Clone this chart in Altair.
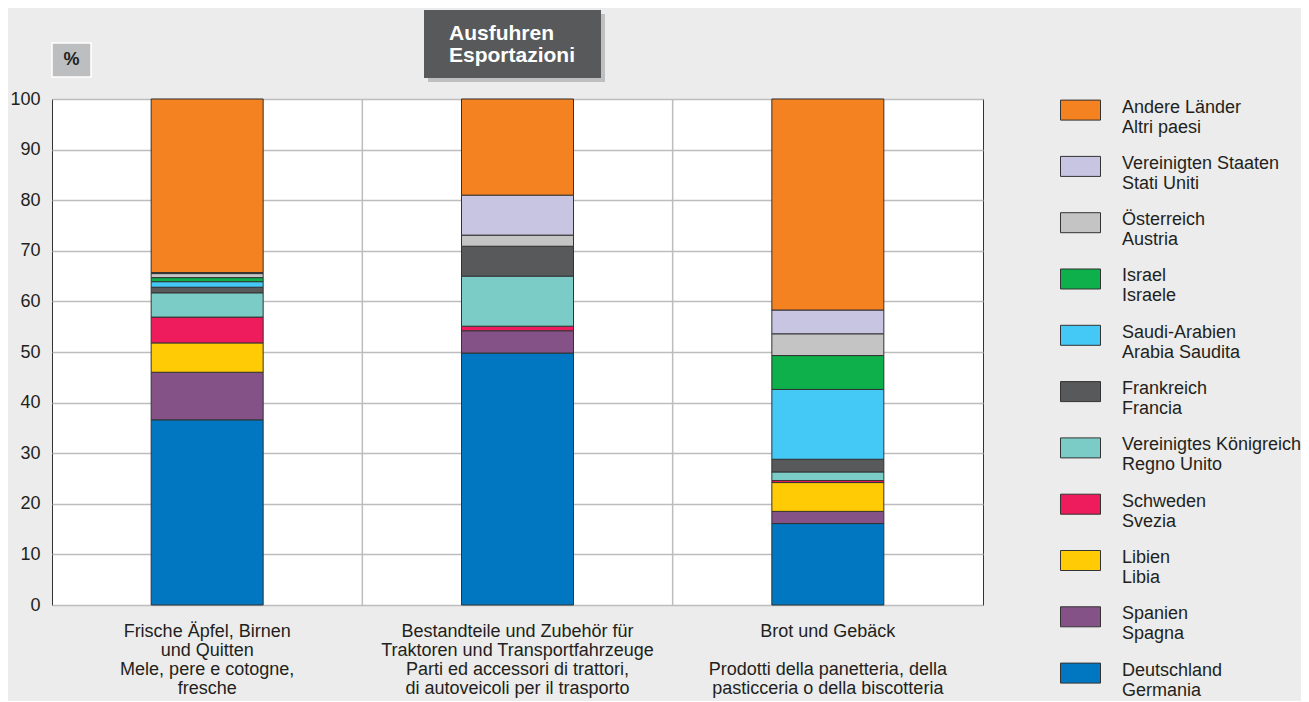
import altair as alt
import pandas as pd

products = [
    "Frische Äpfel, Birnen|und Quitten|Mele, pere e cotogne,|fresche",
    "Bestandteile und Zubehör für|Traktoren und Transportfahrzeuge|Parti ed accessori di trattori,|di autoveicoli per il trasporto",
    "Brot und Gebäck|\u200b|Prodotti della panetteria, della|pasticceria o della biscotteria",
]
countries = [
    "Deutschland|Germania",
    "Spanien|Spagna",
    "Libien|Libia",
    "Schweden|Svezia",
    "Vereinigtes Königreich|Regno Unito",
    "Frankreich|Francia",
    "Saudi-Arabien|Arabia Saudita",
    "Israel|Israele",
    "Österreich|Austria",
    "Vereinigten Staaten|Stati Uniti",
    "Andere Länder|Altri paesi",
]
colors = [
    "#0077C0", "#855287", "#FFCB05", "#EE1C5C", "#7BCCC6", "#58595B",
    "#44C8F5", "#0DB04B", "#C4C4C4", "#C7C5E2", "#F58220",
]
apples = [36.6, 9.4, 5.8, 5.1, 4.8, 1.1, 1.1, 0.8, 0.8, 0.2, 34.3]
parts = [49.8, 4.4, 0.0, 0.9, 9.9, 5.9, 0.0, 0.0, 2.2, 7.9, 19.0]
bread = [16.1, 2.4, 5.7, 0.4, 1.7, 2.5, 13.8, 6.7, 4.3, 4.7, 41.7]

rows = []
for prod, vals in zip(products, [apples, parts, bread]):
    for i, (c, v) in enumerate(zip(countries, vals)):
        if v > 0:
            rows.append({"product": prod, "country": c, "value": v, "rank": i})
df = pd.DataFrame(rows)

TXT = "#231F20"
W, H = 931, 506

xscale = alt.Scale(domain=products, paddingInner=0, paddingOuter=0)
xaxis = alt.Axis(title=None, labelExpr="split(datum.label, '|')", labelAngle=0,
                 labelFontSize=18, labelColor=TXT, labelPadding=17, labelLineHeight=19,
                 labelLimit=0, labelOverlap=False, labelBaseline="top",
                 domain=False, ticks=False, grid=False)

bars = alt.Chart(df).mark_bar(size=112, stroke="#333333", strokeWidth=1).encode(
    x=alt.X("product:N", scale=xscale, axis=xaxis),
    y=alt.Y("value:Q", stack="zero", scale=alt.Scale(domain=[0, 100], nice=False),
            axis=alt.Axis(title=None, values=list(range(0, 101, 10)), grid=True,
                          gridColor="#BDBDBD", gridWidth=1.5, domain=False, ticks=False,
                          labelPadding=12, labelFontSize=18, labelColor=TXT)),
    color=alt.Color("country:N",
                    scale=alt.Scale(domain=countries[::-1], range=colors[::-1]),
                    legend=alt.Legend(title=None, orient="none", legendX=1008, legendY=-12,
                                      direction="vertical",
                                      labelExpr="split(datum.label, '|')",
                                      labelFontSize=18, labelColor=TXT,
                                      symbolType="M-1,-0.37H1V0.63H-1Z", symbolSize=1600,
                                      symbolStrokeColor="#333333", symbolStrokeWidth=1,
                                      symbolOpacity=1, labelOffset=21, rowPadding=6.3,
                                      labelLimit=0)),
    order=alt.Order("rank:Q", sort="ascending"),
)

vrules = alt.Chart(pd.DataFrame({"product": products[1:]})).mark_rule(
    color="#BDBDBD", strokeWidth=1.5).encode(
    x=alt.X("product:N", bandPosition=0, scale=xscale, axis=xaxis),
    y=alt.value(0), y2=alt.value(H),
)

ann = pd.DataFrame({"k": [0]})
shadow = alt.Chart(ann).mark_rect(color="#9A9A9A", opacity=0.55).encode(
    x=alt.value(376), x2=alt.value(553), y=alt.value(-85), y2=alt.value(-17))
tbox = alt.Chart(ann).mark_rect(color="#58595B").encode(
    x=alt.value(372), x2=alt.value(549), y=alt.value(-89), y2=alt.value(-21))
ttext = alt.Chart(ann).mark_text(text=["Ausfuhren", "Esportazioni"], align="left",
                                 baseline="middle", fontSize=21, fontWeight="bold",
                                 color="white", lineHeight=22).encode(
    x=alt.value(397), y=alt.value(-65))
pbox = alt.Chart(ann).mark_rect(color="#BCBEC0", stroke="white", strokeWidth=1.5).encode(
    x=alt.value(0), x2=alt.value(39), y=alt.value(-56), y2=alt.value(-22))
ptext = alt.Chart(ann).mark_text(text="%", align="center", baseline="middle",
                                 fontSize=18, fontWeight="bold", color=TXT).encode(
    x=alt.value(19.5), y=alt.value(-39))

chart = alt.layer(vrules, bars, shadow, tbox, ttext, pbox, ptext).properties(
    width=W, height=H,
    padding={"left": 44, "top": 91, "right": 318, "bottom": 96},
    autosize=alt.AutoSizeParams(type="none"),
).configure(
    background="#EBECEB", font="Liberation Sans",
).configure_view(
    fill="white", stroke="#333333", strokeWidth=1,
)

chart.save("out.html", embed_options={"renderer": "svg", "actions": False})
